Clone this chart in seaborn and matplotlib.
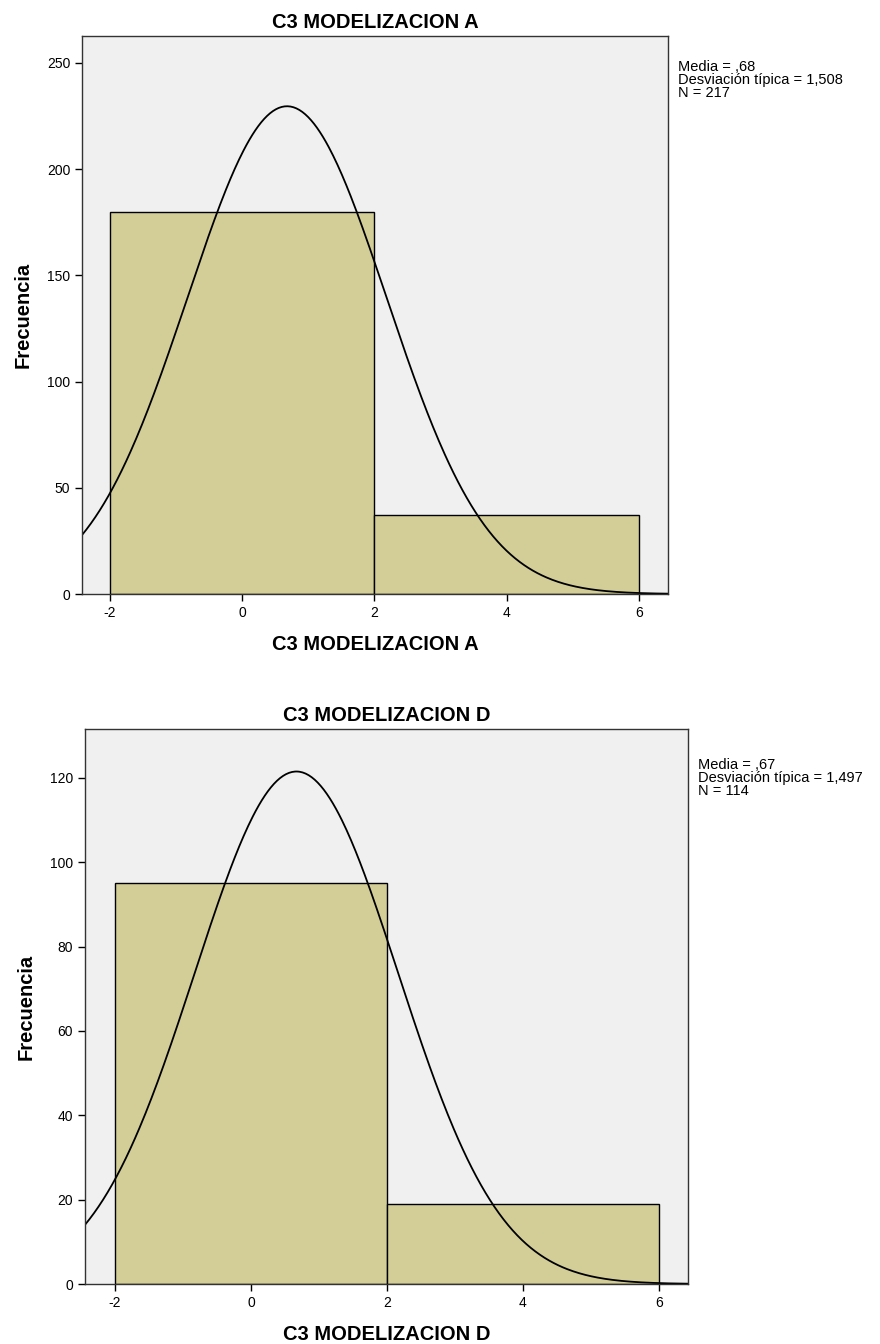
import numpy as np
import pandas as pd
import matplotlib
matplotlib.use("Agg")
import matplotlib.pyplot as plt
import seaborn as sns

# ---- data ----
bin_edges = [-2, 2, 6]
bin_centers = [0, 4]
counts_a = [180, 37]
counts_d = [95, 19]
mean_a, sd_a, n_a = 0.68, 1.508, 217
mean_d, sd_d, n_d = 0.67, 1.497, 114
title_a = "C3 MODELIZACION A"
title_d = "C3 MODELIZACION D"
stats_a = "Media = ,68\nDesviación típica = 1,508\nN = 217"
stats_d = "Media = ,67\nDesviación típica = 1,497\nN = 114"
xticks = [-2, 0, 2, 4, 6]
yticks_a = [0, 50, 100, 150, 200, 250]
yticks_d = [0, 20, 40, 60, 80, 100, 120]

sns.set_style("white")
plt.rcParams['font.family'] = ['Liberation Sans', 'DejaVu Sans']
plt.rcParams['text.color'] = 'black'
plt.rcParams['axes.labelcolor'] = 'black'
narrow = ['Liberation Sans Narrow', 'Liberation Sans', 'DejaVu Sans']

fig = plt.figure(figsize=(8.8, 13.44), dpi=100)
W, H = 880, 1344

def make_ax(l, r, t, b):
    return fig.add_axes([l / W, 1 - b / H, (r - l) / W, (b - t) / H])

def panel(ax, counts, mean, sd, n, title, stats, xlim, ylim, yticks, stats_xy):
    ax.set_facecolor("#F0F0F0")
    df = pd.DataFrame({"x": bin_centers, "w": counts})
    sns.histplot(data=df, x="x", weights="w", bins=bin_edges, ax=ax,
                 color="#D3CE97", edgecolor="black", linewidth=1.0, alpha=1)
    xs = np.linspace(xlim[0], xlim[1], 400)
    width = bin_edges[1] - bin_edges[0]
    ys = n * width / (sd * np.sqrt(2 * np.pi)) * np.exp(-0.5 * ((xs - mean) / sd) ** 2)
    sns.lineplot(x=xs, y=ys, ax=ax, color="black", linewidth=1.3)
    ax.set_xlim(*xlim)
    ax.set_ylim(*ylim)
    ax.set_xticks(xticks)
    ax.set_yticks(yticks)
    ax.set_xticklabels([str(v) for v in xticks], family=narrow, fontsize=10, color="black")
    ax.set_yticklabels([str(v) for v in yticks], family=narrow, fontsize=10, color="black")
    ax.tick_params(axis="both", direction="out", length=5, width=1, colors="black",
                   bottom=True, left=True)
    for s in ax.spines.values():
        s.set_visible(True)
        s.set_color("#333333")
        s.set_linewidth(1.0)
    ax.set_xlabel(title, family=narrow, fontsize=14.5, fontweight="bold", labelpad=11,
                  color="black")
    ax.set_ylabel("Frecuencia", family=narrow, fontsize=14.5, fontweight="bold", labelpad=10,
                  color="black")
    ax.set_title(title, family=narrow, fontsize=14.5, fontweight="bold", pad=6, color="black")
    fig.text(stats_xy[0] / W, 1 - stats_xy[1] / H, stats, fontsize=10.5, color="black",
             va="top", ha="left", linespacing=0.92)

ax1 = make_ax(82, 668, 36, 594)
panel(ax1, counts_a, mean_a, sd_a, n_a, title_a, stats_a,
      (-2.42, 6.44), (0, 262.7), yticks_a, (678, 60))

ax2 = make_ax(85, 688, 729, 1284)
panel(ax2, counts_d, mean_d, sd_d, n_d, title_d, stats_d,
      (-2.44, 6.43), (0, 131.6), yticks_d, (698, 758))

fig.savefig("out.png", dpi=100, facecolor="white")
